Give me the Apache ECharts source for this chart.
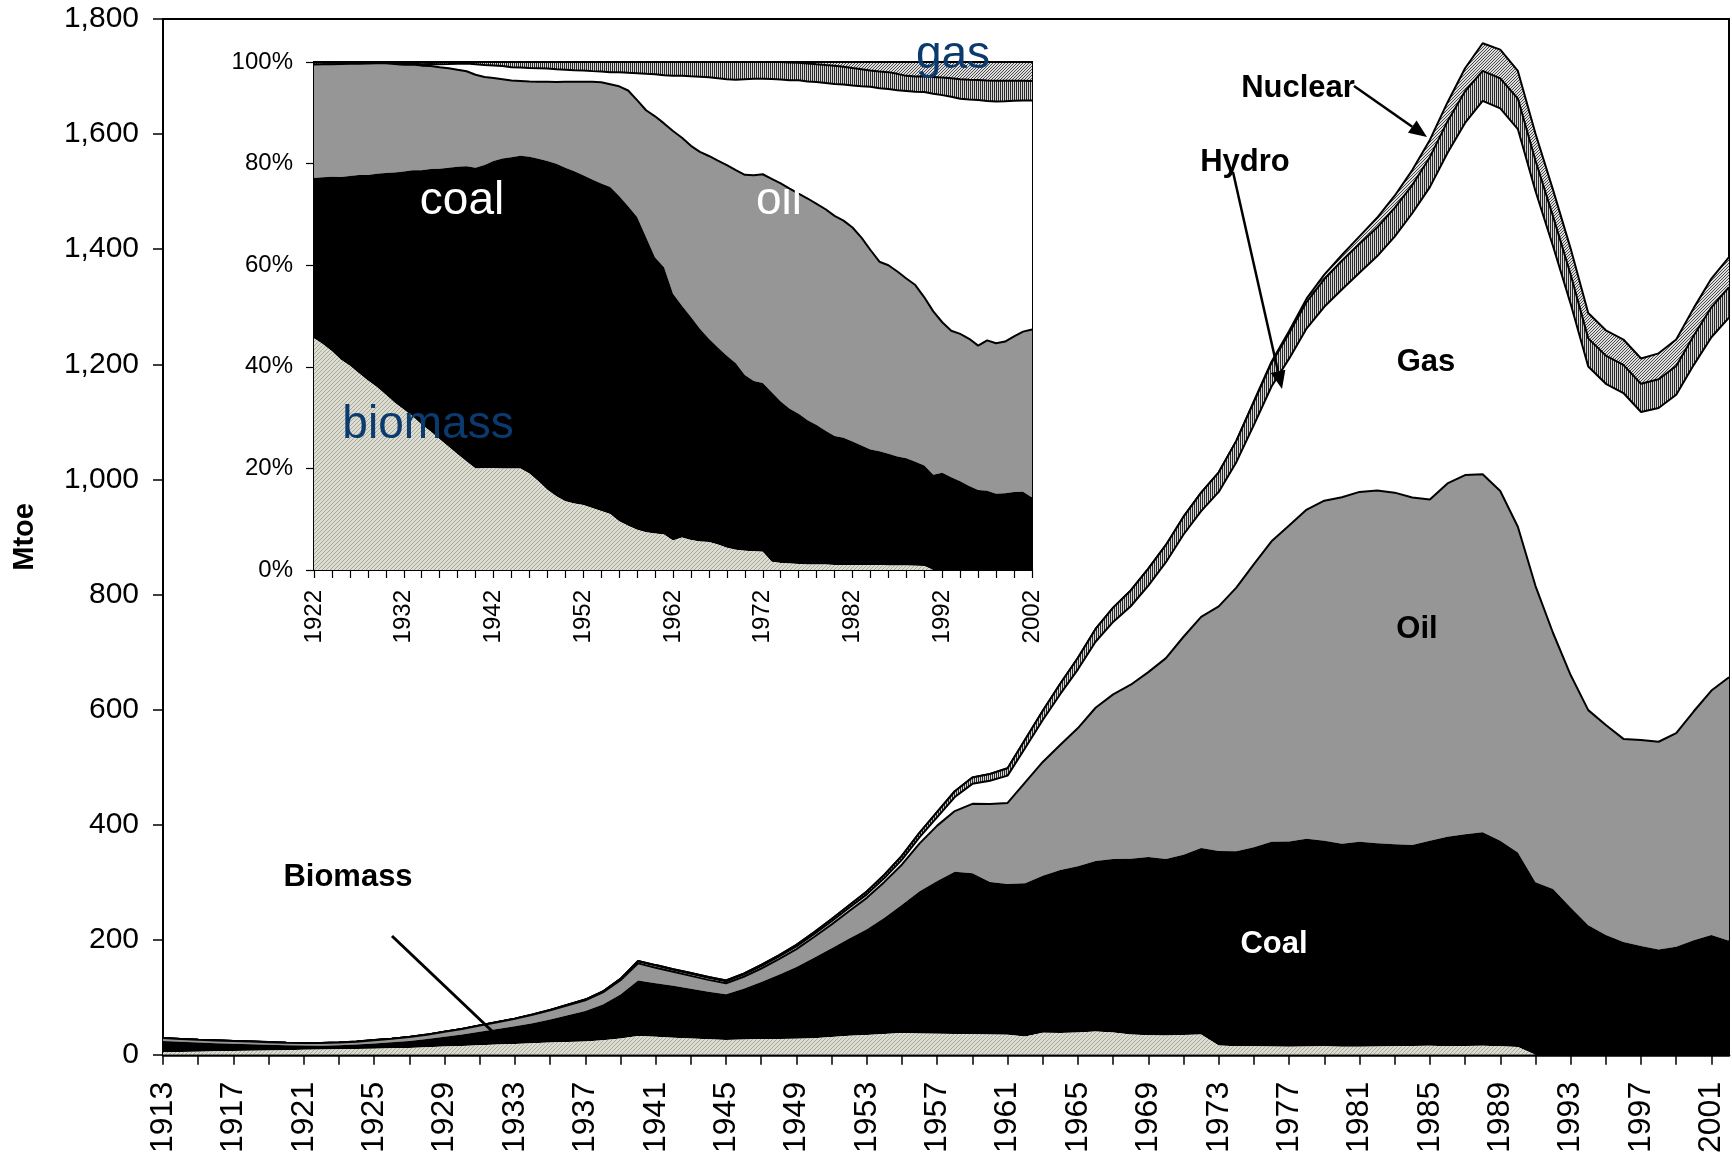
<!DOCTYPE html>
<html>
<head>
<meta charset="utf-8">
<script src="https://cdn.jsdelivr.net/npm/echarts@6/dist/echarts.min.js"></script>
<style>
html,body{margin:0;padding:0;background:#fff;}
#chart{width:1732px;height:1156px;}
</style>
</head>
<body>
<div id="chart"></div>
<script>
// ---------------- DATA (Mtoe) ----------------
const years = [1913,1914,1915,1916,1917,1918,1919,1920,1921,1922,1923,1924,1925,1926,1927,1928,1929,1930,
1931,1932,1933,1934,1935,1936,1937,1938,1939,1940,1941,1942,1943,1944,1945,1946,1947,1948,1949,1950,
1951,1952,1953,1954,1955,1956,1957,1958,1959,1960,1961,1962,1963,1964,1965,1966,1967,1968,1969,1970,
1971,1972,1973,1974,1975,1976,1977,1978,1979,1980,1981,1982,1983,1984,1985,1986,1987,1988,1989,1990,
1991,1992,1993,1994,1995,1996,1997,1998,1999,2000,2001,2002];

const biomass = [4.5,5.0,5.5,6.0,6.5,7.0,7.5,8.0,8.7,9.4,9.6,9.9,10.6,11.3,12.0,13.1,14.4,15.5,
16.8,18.0,19.0,20.0,21.2,22.4,23.3,25.1,28.2,32.6,31.2,29.8,28.4,27.0,25.8,26.8,27.3,27.3,27.7,28.8,
30.9,33.3,34.6,36.3,38.1,37.1,36.7,36.2,35.7,35.1,34.9,31.8,38.3,38.1,38.6,40.7,38.9,35.5,33.8,33.7,
34.6,35.2,16.2,14.9,14.8,14.4,13.8,14.5,14.9,13.9,14.2,14.6,14.9,15.4,15.9,15.0,15.4,15.8,14.8,13.7,
0,0,0,0,0,0,0,0,0,0,0,0];

const coal = [19.5,17.6,15.7,14.3,12.9,11.5,10.0,8.5,7.3,6.5,7.1,7.9,9.2,10.5,12.1,14.2,16.8,19.6,
23.1,26.7,30.5,35.0,40.2,46.4,52.7,62.3,76.7,96.5,93.1,90.1,86.6,82.8,79.5,88.0,99.1,111.9,125.1,139.9,
154.3,168.7,183.7,201.9,222.8,247.0,265.4,282.1,280.0,265.0,262.0,266.3,272.7,283.2,289.1,296.0,301.5,305.0,310.1,306.6,
313.2,324.4,338,339,346,356,357,361,357,353,356,353,351,349,356,364,368,371,357,338,
300,288,256,225,208,196,189,183,188,199,208,198];

const oil = [5.0,4.9,4.8,4.7,4.6,4.5,4.5,4.5,4.5,4.6,4.8,5.1,5.7,6.2,6.8,7.7,8.7,9.7,
10.9,12.0,13.1,14.4,15.8,17.4,18.8,21.0,24.7,29.8,27.0,24.3,22.2,20.4,19.0,20.9,23.6,27.0,30.8,36.0,
41.5,47.8,54.5,62.3,69.9,83.4,96.2,105.3,120.5,135.7,140.9,175.4,197.9,217.4,240.1,266.4,285.9,302.6,321.1,349.1,
378.7,401.5,425,458,492,522,549,572,591,602,608,613,611,604,593,614,624,622,608,566,
515,445,404,374,365,353,358,361,371,398,425,458];

const gas = [0,0,0,0,0,0,0,0,0,0,0,0,0,0,0,0,0,0,
0,0.1,0.1,0.2,0.3,0.5,0.8,1.3,2.0,3.4,3.7,3.7,3.7,3.5,3.4,3.7,4.2,4.5,4.8,5.1,
5.4,5.7,6.0,6.6,8.3,10.8,14.8,24.3,34.7,40.5,47.3,59.7,73.0,88.4,102.1,114.7,125.9,136.4,150.4,166.6,
177.7,183.7,199,218,242,269,290,315,337,361,381,407,445,494,543,574,612,649,665,691,
686,672,645,597,593,601,570,580,588,602,614,625];

const hydro = [0.1,0.1,0.1,0.1,0.1,0.1,0.1,0.1,0.1,0.1,0.1,0.1,0.1,0.1,0.1,0.1,0.1,0.1,
0.2,0.2,0.2,0.3,0.3,0.4,0.4,0.4,0.4,0.7,0.9,1.0,1.1,1.4,1.4,1.7,1.9,2.2,2.7,3.2,
3.8,4.4,5.1,5.9,6.9,7.7,8.9,10.1,11.1,11.7,12.9,14.8,16.1,18.1,20.0,22.2,24.9,27.4,29.6,30.1,
30.9,32.2,34,37,40,41,44,46,48,50,50,50,50,49,52,55,55,52,52,53,
53,52,51,49,49,49,49,50,50,51,52,53];

const nuclear = [0,0,0,0,0,0,0,0,0,0,0,0,0,0,0,0,0,0,
0,0,0,0,0,0,0,0,0,0,0,0,0,0,0,0,0,0,0,0,
0,0,0,0,0,0,0,0,0,0,0,0,0,0,0,0,0,0,0,0,
0,0,0,0,1,2,4,6,8,10,13,17,21,26,30,33,40,48,50,48,
47,46,45,44,44,44,44,45,46,48,50,52];

const mainTicks = [0,200,400,600,800,1000,1200,1400,1600,1800];
const insetFirstYear = 1922;

// ---------------- helpers ----------------
const FONT = 'Liberation Sans, Arial, Helvetica, sans-serif';

function pattern(w, h, bg, fg, pix) {
  const c = document.createElement('canvas');
  c.width = w; c.height = h;
  const g = c.getContext('2d');
  g.fillStyle = bg; g.fillRect(0, 0, w, h);
  g.fillStyle = fg;
  pix.forEach(p => g.fillRect(p[0], p[1], 1, 1));
  return { image: c, repeat: 'repeat' };
}
const fillBiomass = pattern(4, 4, '#dcdcd0', '#a9a99d', [[0,3],[1,2],[2,1],[3,0]]);
const fillHydro = pattern(2, 1, '#d4d4d4', '#2a2a2a', [[0,0]]);
const fillNuclear = pattern(3, 3, '#dedede', '#4a4a4a', [[0,2],[1,1],[2,0]]);

const layers = [
  { name: 'Biomass', data: biomass, fill: fillBiomass, lw: 0 },
  { name: 'Coal', data: coal, fill: '#000000', lw: 0 },
  { name: 'Oil', data: oil, fill: '#969696', lw: 2 },
  { name: 'Gas', data: gas, fill: '#ffffff', lw: 2 },
  { name: 'Hydro', data: hydro, fill: fillHydro, lw: 2 },
  { name: 'Nuclear', data: nuclear, fill: fillNuclear, lw: 2 }
];

const totals = years.map((y, i) => layers.reduce((s, l) => s + l.data[i], 0));
const i0 = years.indexOf(insetFirstYear);
const insetYears = years.slice(i0);

function mkSeries(l, k, axisIdx, data, stackName) {
  return {
    type: 'line', name: l.name + (axisIdx ? ' share' : ''),
    xAxisIndex: axisIdx, yAxisIndex: axisIdx,
    stack: stackName, data: data,
    symbol: 'none', showSymbol: false, smooth: false,
    z: 10 - k,
    lineStyle: { color: '#000', width: l.lw, opacity: l.lw ? 1 : 0 },
    areaStyle: { color: l.fill, opacity: 1 },
    emphasis: { disabled: true },
    silent: true
  };
}

const series = [];
layers.forEach((l, k) => series.push(mkSeries(l, k, 0, l.data, 'main')));
layers.forEach((l, k) => {
  const share = l.data.slice(i0).map((v, i) => v / totals[i + i0] * 100);
  series.push(mkSeries(l, k, 1, share, 'inset'));
});

function arrow(x1, y1, x2, y2, lw, head, wid) {
  const a = Math.atan2(y2 - y1, x2 - x1);
  const bx = x2 - head * Math.cos(a), by = y2 - head * Math.sin(a);
  const px = -Math.sin(a) * wid / 2, py = Math.cos(a) * wid / 2;
  return [
    { type: 'line', shape: { x1: x1, y1: y1, x2: bx, y2: by }, style: { stroke: '#000', lineWidth: lw }, z: 100 },
    { type: 'polygon', shape: { points: [[x2, y2], [bx + px, by + py], [bx - px, by - py]] }, style: { fill: '#000' }, z: 100 }
  ];
}
function label(text, x, y, size, color, bold) {
  return { type: 'text', x: x, y: y, z: 100,
    style: { text: text, fill: color, font: (bold ? 'bold ' : '') + size + 'px ' + FONT,
      align: 'center', verticalAlign: 'middle', textAlign: 'center', textVerticalAlign: 'middle' } };
}

const graphics = [
  label('Nuclear', 1298, 88, 31, '#000', true),
  label('Hydro', 1245, 162, 31, '#000', true),
  label('Gas', 1426, 362, 31, '#000', true),
  label('Oil', 1417, 629, 31, '#000', true),
  label('Coal', 1274, 944, 31, '#fff', true),
  label('Biomass', 348, 877, 31, '#000', true),
  label('coal', 462, 201, 46, '#fff', false),
  label('oil', 779, 201, 46, '#fff', false),
  label('biomass', 428, 425, 46, '#0b3b6e', false),
  label('gas', 953, 55, 46, '#0b3b6e', false),
  { type: 'line', shape: { x1: 392, y1: 936, x2: 493, y2: 1032 }, style: { stroke: '#000', lineWidth: 3 }, z: 100 }
].concat(arrow(1354, 86, 1427, 137, 2.5, 18, 15))
 .concat(arrow(1233, 172, 1282, 389, 2.5, 18, 15));

const axisText = { color: '#000', fontFamily: FONT };

const option = {
  animation: false,
  backgroundColor: '#ffffff',
  grid: [
    { left: 163, top: 19, width: 1566, height: 1039, show: true, borderColor: '#000', borderWidth: 2, backgroundColor: '#fff', containLabel: false },
    { left: 314, top: 62, width: 718, height: 508, show: true, borderColor: '#000', borderWidth: 2, backgroundColor: '#fff', containLabel: false }
  ],
  xAxis: [
    { type: 'category', gridIndex: 0, data: years, boundaryGap: false,
      axisLine: { show: true, lineStyle: { color: '#000', width: 2.5 } },
      axisTick: { show: true, interval: 1, length: 10, lineStyle: { color: '#000', width: 1.5 } },
      axisLabel: Object.assign({ interval: 3, rotate: 90, fontSize: 32, margin: 27 }, axisText),
      splitLine: { show: false } },
    { type: 'category', gridIndex: 1, data: insetYears, boundaryGap: false,
      axisLine: { show: true, lineStyle: { color: '#000', width: 2 } },
      axisTick: { show: true, interval: 1, length: 8, lineStyle: { color: '#000', width: 1.2 } },
      axisLabel: Object.assign({ interval: 9, rotate: 90, fontSize: 24, margin: 20 }, axisText),
      splitLine: { show: false } }
  ],
  yAxis: [
    { type: 'value', gridIndex: 0, min: mainTicks[0], max: mainTicks[mainTicks.length - 1], interval: 200,
      name: 'Mtoe', nameLocation: 'middle', nameGap: 124, nameRotate: 90,
      nameTextStyle: { fontSize: 29, fontWeight: 'bold', color: '#000', fontFamily: FONT },
      axisLine: { show: true, lineStyle: { color: '#000', width: 2 } },
      axisTick: { show: true, length: 10, lineStyle: { color: '#000', width: 1.5 } },
      axisLabel: Object.assign({ fontSize: 30, margin: 24,
        formatter: v => v.toLocaleString('en-US') }, axisText),
      splitLine: { show: false } },
    { type: 'value', gridIndex: 1, min: 0, max: 100, interval: 20,
      axisLine: { show: true, lineStyle: { color: '#000', width: 2 } },
      axisTick: { show: true, length: 8, lineStyle: { color: '#000', width: 1.2 } },
      axisLabel: Object.assign({ fontSize: 24, margin: 21, formatter: '{value}%' }, axisText),
      splitLine: { show: false } }
  ],
  series: series,
  graphic: graphics
};

const chart = echarts.init(document.getElementById('chart'), null, { renderer: 'canvas', width: 1732, height: 1156 });
chart.setOption(option);
</script>
</body>
</html>
